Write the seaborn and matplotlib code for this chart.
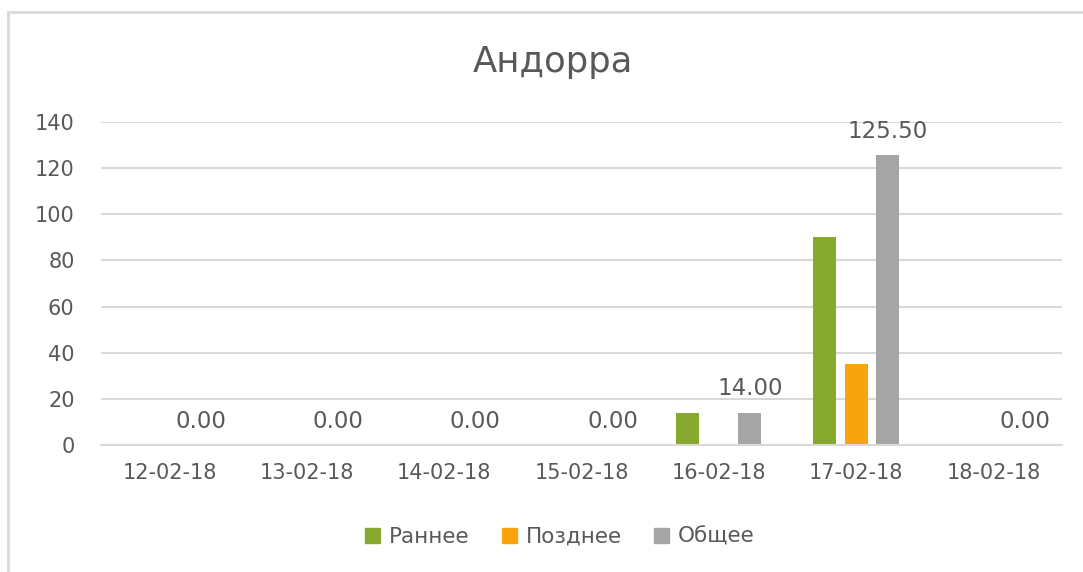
import matplotlib
matplotlib.use("Agg")
import matplotlib.pyplot as plt
import seaborn as sns
import pandas as pd
from matplotlib.patches import Rectangle

dates = ["12-02-18", "13-02-18", "14-02-18", "15-02-18", "16-02-18", "17-02-18", "18-02-18"]
early = [0, 0, 0, 0, 14, 90, 0]
late = [0, 0, 0, 0, 0, 35, 0]
total = [0, 0, 0, 0, 14, 125.5, 0]
series = ["Раннее", "Позднее", "Общее"]
colors = ["#86A92E", "#F7A40F", "#A5A5A5"]

rows = []
for name, vals in zip(series, [early, late, total]):
    for d, v in zip(dates, vals):
        rows.append({"date": d, "value": v, "series": name})
df = pd.DataFrame(rows)

sns.set_theme(style="white")
plt.rcParams["font.family"] = ["DejaVu Sans"]
text_color = "#595959"
grid_color = "#D9D9D9"

fig = plt.figure(figsize=(10.83, 5.72), dpi=100)
ax = fig.add_axes([101/1083, 1-445/572, (1062-101)/1083, (445-122)/572])

sns.barplot(data=df, x="date", y="value", hue="series", hue_order=series,
            palette=colors, width=0.68, gap=0.26, ax=ax, legend=True,
            saturation=1, order=dates, linewidth=0)

ax.set_ylim(0, 140)
ax.set_xlim(-0.5, len(dates) - 0.5)
ax.set_yticks(range(0, 141, 20))
ax.yaxis.grid(True, color=grid_color, linewidth=1.5)
ax.set_axisbelow(True)
for s in ["top", "right", "left"]:
    ax.spines[s].set_visible(False)
ax.spines["bottom"].set_color(grid_color)
ax.spines["bottom"].set_linewidth(1.5)
ax.set_xlabel("")
ax.set_ylabel("")
ax.tick_params(axis="y", length=0, labelsize=15, labelcolor=text_color, pad=19)
ax.tick_params(axis="x", which="major", length=0, labelsize=15, labelcolor=text_color, pad=13)
ax.set_xticks([i - 0.5 for i in range(len(dates) + 1)], minor=True)
ax.tick_params(axis="x", which="minor", length=12, color=grid_color, width=1.5)

# data labels on the total series
cont = ax.containers[2]
ax.bar_label(cont, labels=[f"{v:.2f}" for v in total], padding=9,
             fontsize=16.5, color=text_color)

ax.legend_.remove()
handles = [Rectangle((0, 0), 1, 1, color=c) for c in colors]
fig.legend(handles, series, loc="center", bbox_to_anchor=(0.517, 1-537/572),
           ncol=3, frameon=False, fontsize=15.5, handlelength=0.7,
           handleheight=0.7, handletextpad=0.4, columnspacing=1.5,
           labelcolor=text_color)

fig.text(553/1083, 1-62/572, "Андорра", ha="center", va="center",
         fontsize=25.5, color=text_color)

fig.patches.append(Rectangle((8/1083, -0.05), 1.1, 1-12/572 + 0.05,
                             transform=fig.transFigure, fill=False,
                             edgecolor=grid_color, linewidth=2))

fig.savefig("out.png", dpi=100)
